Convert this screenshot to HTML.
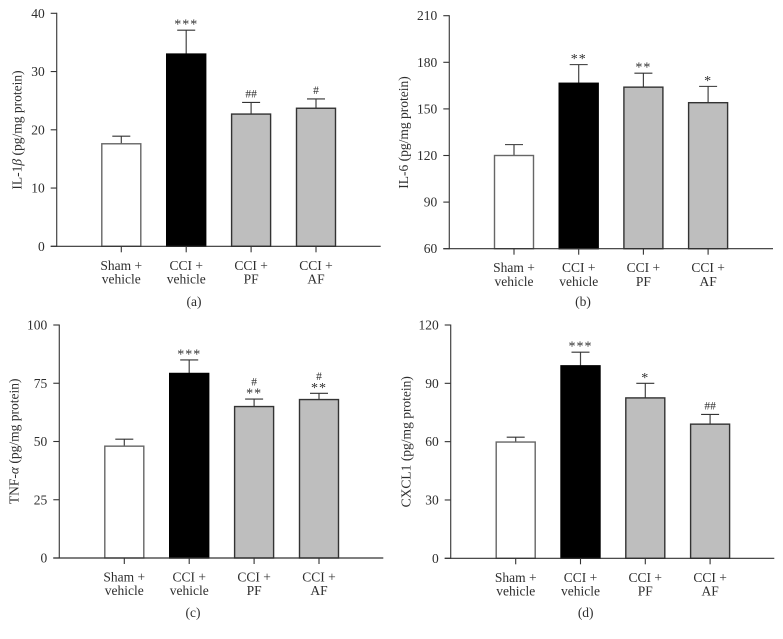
<!DOCTYPE html>
<html>
<head>
<meta charset="utf-8">
<title>Cytokine levels bar charts</title>
<style>
html,body{margin:0;padding:0;background:#fff;}
svg{display:block;filter:blur(0.3px);}
text{font-family:"Liberation Serif",serif;fill:#2e2e2e;}
</style>
</head>
<body>
<svg id="figure" width="783" height="639" viewBox="0 0 783 639" xmlns="http://www.w3.org/2000/svg"></svg>
<script>
// Data
const categories = [["Sham +","vehicle"],["CCI +","vehicle"],["CCI +","PF"],["CCI +","AF"]];

const ticksA = [0,10,20,30,40];
const valuesA = [17.6,33,22.7,23.7];
const errorTopsA = [18.9,37.1,24.7,25.3];
const marksA = [[],["***"],["##"],["#"]];

const ticksB = [60,90,120,150,180,210];
const valuesB = [120,166.5,164,154];
const errorTopsB = [127,178.5,173,164.5];
const marksB = [[],["**"],["**"],["*"]];

const ticksC = [0,25,50,75,100];
const valuesC = [48,79.2,65,68];
const errorTopsC = [51,85,68.2,70.7];
const marksC = [[],["***"],["#","**"],["#","**"]];

const ticksD = [0,30,60,90,120];
const valuesD = [59.8,99,82.5,69];
const errorTopsD = [62.3,106,90,74];
const marksD = [[],["***"],["*"],["##"]];

// Layout
const panels = [
  {id:"a",ticks:ticksA,values:valuesA,tops:errorTopsA,marks:marksA,
   pre:"IL-1",greek:"β",post:" (pg/mg protein)",
   axisX:56.7,top:13.3,bottom:246.3,right:380.7,first:121.3,step:64.9,
   titleX:21.7,titleY:130,capX:194,capY:306},
  {id:"b",ticks:ticksB,values:valuesB,tops:errorTopsB,marks:marksB,
   pre:"IL-6",greek:"",post:" (pg/mg protein)",
   axisX:449.3,top:15.7,bottom:248.7,right:773,first:514,step:64.7,
   titleX:408,titleY:132.5,capX:583,capY:306},
  {id:"c",ticks:ticksC,values:valuesC,tops:errorTopsC,marks:marksC,
   pre:"TNF-",greek:"α",post:" (pg/mg protein)",
   axisX:59.3,top:325,bottom:558,right:383.3,first:124.3,step:64.9,
   titleX:18.5,titleY:441.3,capX:193,capY:617},
  {id:"d",ticks:ticksD,values:valuesD,tops:errorTopsD,marks:marksD,
   pre:"CXCL1",greek:"",post:" (pg/mg protein)",
   axisX:450.7,top:325,bottom:558.3,right:774.3,first:515.7,step:64.8,
   titleX:410.3,titleY:441.7,capX:585.7,capY:617}
];

const barFills = ["#ffffff","#000000","#bebebe","#bebebe"];
const barStrokes = ["#666666","#000000","#333333","#333333"];
const barWidth = 39;
const NS = "http://www.w3.org/2000/svg";
const root = document.getElementById("figure");

function make(parent, tag, attrs, content) {
  const el = document.createElementNS(NS, tag);
  for (const k in attrs) el.setAttribute(k, attrs[k]);
  if (content !== undefined) el.textContent = content;
  parent.appendChild(el);
  return el;
}

function drawPanel(p) {
  const lo = p.ticks[0];
  const hi = p.ticks[p.ticks.length - 1];
  const yScale = v => p.bottom - (v - lo) / (hi - lo) * (p.bottom - p.top);
  const xScale = i => p.first + i * p.step;

  const g = make(root, "g", {});
  
  

  p.values.forEach((v, i) => {
    const cx = xScale(i);
    const yTop = yScale(p.tops[i]);
    const yVal = yScale(v);

    const stem = make(g, "line", {x1:cx,x2:cx,y1:yVal,y2:yTop,stroke:"#444",
      "stroke-width":1.2});
    
    

    const cap = make(g, "line", {x1:cx-9,x2:cx+9,y1:yTop,y2:yTop,stroke:"#333",
      "stroke-width":1.1});
    
    

    const bar = make(g, "rect", {x:cx-barWidth/2,y:yVal,width:barWidth,
      height:p.bottom-yVal,fill:barFills[i],stroke:barStrokes[i],"stroke-width":1.4});
    
    

    const tick = make(g, "line", {x1:cx,x2:cx,y1:p.bottom,y2:p.bottom+6,
      stroke:"#333","stroke-width":1.1});
    
    

    categories[i].forEach((line, j) => {
      const lab = make(g, "text", {x:cx,y:p.bottom+23.5+j*13.7,
        "text-anchor":"middle","font-size":13.5}, line);
      
      
    });

    // significance marks, stacked upward from the error cap (last entry is lowest)
    let base = yTop;
    p.marks[i].slice().reverse().forEach((m, j) => {
      const isStar = m.charAt(0) === "*";
      const y = isStar ? base - 1.5 : base - 5;
      const t = make(g, "text", {x:cx,y:y,"text-anchor":"middle",
        "font-size":isStar ? 14 : 11.5,"letter-spacing":isStar ? 1 : 0,"fill":"#444"}, m);
      
      
      base = isStar ? base - 8.5 : base - 11;
    });
  });

  const yAxis = make(g, "line", {x1:p.axisX,x2:p.axisX,y1:p.top-0.5,y2:p.bottom+0.5,
    stroke:"#444","stroke-width":1.2});
  
  

  const xAxis = make(g, "line", {x1:p.axisX-6,x2:p.right,y1:p.bottom,y2:p.bottom,
    stroke:"#333","stroke-width":1.2});
  
  

  p.ticks.forEach(t => {
    const y = yScale(t);
    const tk = make(g, "line", {x1:p.axisX-6,x2:p.axisX,y1:y,y2:y,stroke:"#333",
      "stroke-width":1.1});
    
    

    const lab = make(g, "text", {x:p.axisX-12,y:y+4.5,"text-anchor":"end",
      "font-size":13.5}, String(t));
    
    
  });

  const title = make(g, "text", {x:0,y:0,"text-anchor":"middle","font-size":13.5,
    transform:"translate(" + p.titleX + "," + p.titleY + ") rotate(-90)"});
  
  
  make(title, "tspan", {}, p.pre);
  if (p.greek) make(title, "tspan", {"font-style":"italic"}, p.greek);
  make(title, "tspan", {}, p.post);

  const caption = make(g, "text", {x:p.capX,y:p.capY,"text-anchor":"middle",
    "font-size":13.5}, "(" + p.id + ")");
  
  
}

panels.forEach(drawPanel);
</script>
</body>
</html>
